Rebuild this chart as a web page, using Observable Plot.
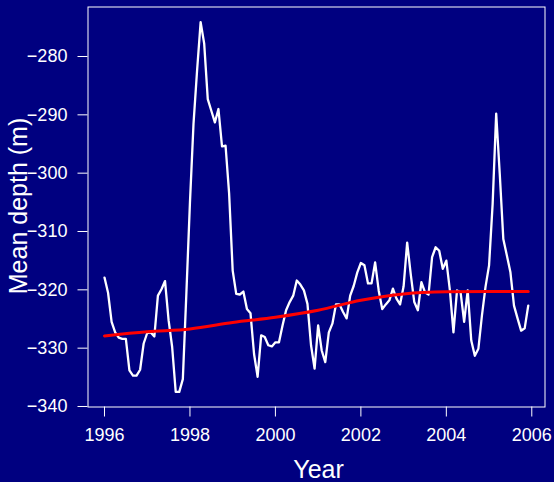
<!DOCTYPE html>
<html>
<head>
<meta charset="utf-8">
<script src="https://cdn.jsdelivr.net/npm/d3@7"></script>
<script src="https://cdn.jsdelivr.net/npm/@observablehq/plot@0.6"></script>
<style>
  html, body { margin: 0; padding: 0; background: #000080; }
  #chart { width: 554px; height: 482px; overflow: hidden; }
</style>
</head>
<body>
<div id="chart"></div>
<script>
// Monthly mean depth, Jan 1996 .. Dec 2005
const startYear = 1996;
const depth = [
  -317.9, -320.5, -325.5, -327.3, -328.2, -328.4, -328.4, -333.8, -334.7, -334.7, -333.7, -329.2,
  -327.4, -327.3, -328.0, -321.0, -319.9, -318.5, -325.2, -329.8, -337.5, -337.5, -335.3, -320.5,
  -305.0, -291.5, -282.4, -274.1, -277.8, -287.3, -289.3, -291.3, -289.0, -295.4, -295.3, -303.5,
  -316.7, -320.7, -320.8, -320.3, -323.3, -324.0, -331.0, -334.9, -327.8, -328.1, -329.5, -329.7,
  -329.0, -329.0, -326.1, -323.5, -322.1, -321.0, -318.4, -319.1, -320.1, -322.4, -329.5, -333.5,
  -326.1, -330.4, -332.4, -327.3, -325.8, -322.5, -322.5, -323.8, -324.9, -321.0, -319.3, -317.0,
  -315.4, -315.8, -318.9, -318.9, -315.3, -320.1, -323.3, -322.5, -321.8, -319.8, -321.5, -322.5,
  -319.4, -311.9, -317.3, -322.1, -323.5, -318.7, -320.4, -320.8, -314.4, -312.7, -313.3, -316.4,
  -315.0, -320.1, -327.3, -320.1, -320.4, -325.5, -320.1, -328.7, -331.3, -330.1, -324.4, -319.5,
  -315.8, -305.3, -289.8, -300.1, -311.3, -314.1, -317.0, -322.7, -324.9, -327.0, -326.6, -322.7
];

// Smooth trend (red)
const trendYears  = [1996, 1997, 1998, 1999, 2000, 2001, 2002, 2003, 2004, 2005, 2005.917];
const trendValues = [-327.9, -327.2, -326.7, -325.6, -324.7, -323.5, -321.8, -320.7, -320.35, -320.3, -320.3];

const xTicks = [1996, 1998, 2000, 2002, 2004, 2006];
const yTicks = [-340, -330, -320, -310, -300, -290, -280];

const xLabel = "Year";
const yLabel = "Mean depth (m)";

const series = depth.map((v, i) => ({year: startYear + i / 12, value: v}));
const trend = trendYears.map((t, i) => ({year: t, value: trendValues[i]}));

const fmt = d3.format("d");

const chart = Plot.plot({
  width: 554,
  height: 482,
  marginLeft: 87.5,
  marginRight: 9.5,
  marginTop: 6.5,
  marginBottom: 75.5,
  style: {
    background: "#000080",
    color: "white",
    fontFamily: "'Liberation Sans', Arial, Helvetica, sans-serif"
  },
  x: {domain: [1995.614, 2006.309]},
  y: {domain: [-340.086, -271.514]},
  marks: [
    Plot.frame({stroke: "white", strokeWidth: 1}),
    Plot.axisX({ticks: xTicks, tickFormat: fmt, tickSize: 10, tickPadding: 11.3, fontSize: 18, label: null}),
    Plot.axisY({ticks: yTicks, tickFormat: fmt, tickSize: 10, tickPadding: 10.6, fontSize: 18, label: null}),
    Plot.line(series, {x: "year", y: "value", stroke: "white", strokeWidth: 2.3, strokeLinejoin: "round"}),
    Plot.line(trend, {x: "year", y: "value", stroke: "#ff0000", strokeWidth: 3, curve: "monotone-x"}),
    Plot.text([xLabel], {frameAnchor: "bottom", dy: 71, dx: 2, textAnchor: "middle", lineAnchor: "bottom", fontSize: 25, fill: "white"}),
    Plot.text([yLabel], {frameAnchor: "left", dx: -60.8, dy: -1, rotate: -90, textAnchor: "middle", lineAnchor: "bottom", fontSize: 25, fill: "white"})
  ]
});

document.getElementById("chart").append(chart);
</script>
</body>
</html>
